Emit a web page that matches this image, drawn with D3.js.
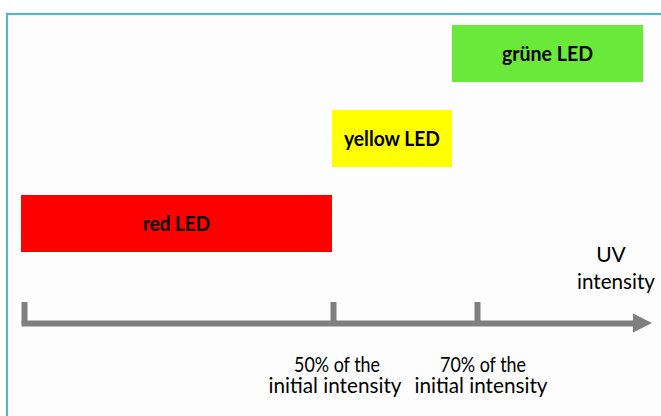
<!DOCTYPE html>
<html>
<head>
<meta charset="utf-8">
<script src="https://cdn.jsdelivr.net/npm/d3@7/dist/d3.min.js"></script>
<style>
  html, body { margin: 0; padding: 0; background: #ffffff; }
  svg { display: block; }
  text { font-family: Lato, "Open Sans", "Noto Sans", sans-serif; fill: #000; }
</style>
</head>
<body>
<svg id="chart" width="661" height="416"></svg>
<script>
// ---- data ----
const stages = ["red LED", "yellow LED", "grüne LED"];
const stageStart = [0, 50, 70];
const stageEnd = [50, 70, 100];
const stageColors = ["#ff0000", "#ffff00", "#6ae93a"];
const tickValues = [0, 50, 70];
const tickLines1 = ["", "50% of the", "70% of the"];
const tickLines2 = ["", "initial intensity", "initial intensity"];
const axisTitle = ["UV", "intensity"];

// ---- layout ----
const svg = d3.select("#chart");

// frame
svg.append("rect").attr("x", 7).attr("y", 14).attr("width", 720).attr("height", 500)
  .attr("fill", "#fdfdfd").attr("stroke", "#5ab3cb").attr("stroke-width", 2.2);

// scales
const xBox = d3.scaleLinear().domain([0, 50, 70, 100]).range([21, 332, 452, 643]);
const xAxis = d3.scaleLinear().domain([0, 50, 70, 100]).range([24, 333, 477, 633]);
const yRow = d3.scaleLinear().domain([0, 2]).range([195, 25]);
const boxH = 57;

// boxes
const rows = stages.map((s, i) => ({ name: s, start: stageStart[i], end: stageEnd[i], color: stageColors[i], i }));
const g = svg.append("g");
g.selectAll("rect.box").data(rows).join("rect")
  .attr("class", "box")
  .attr("x", d => xBox(d.start))
  .attr("y", d => yRow(d.i))
  .attr("width", d => xBox(d.end) - xBox(d.start))
  .attr("height", boxH)
  .attr("fill", d => d.color);

const labelWidths = { "red LED": 67, "yellow LED": 96, "grüne LED": 91 };
g.selectAll("text.box").data(rows).join("text")
  .attr("class", "box")
  .attr("x", d => (xBox(d.start) + xBox(d.end)) / 2)
  .attr("y", d => yRow(d.i) + boxH / 2 + 7.5)
  .attr("text-anchor", "middle")
  .attr("font-weight", "bold")
  .attr("font-size", 21)
  .attr("textLength", d => labelWidths[d.name])
  .attr("lengthAdjust", "spacingAndGlyphs")
  .text(d => d.name);

// axis
const axisY = 323;
const axisG = svg.append("g").attr("transform", `translate(0,${axisY})`)
  .call(d3.axisTop(xAxis).tickValues(tickValues).tickSizeInner(21).tickSizeOuter(0).tickFormat(""));
axisG.select(".domain").attr("stroke", "#7f7f7f").attr("stroke-width", 6).attr("stroke-linecap", "square");
axisG.selectAll(".tick line").attr("stroke", "#7f7f7f").attr("stroke-width", 6);

// arrow head
const xEnd = xAxis(100);
svg.append("path")
  .attr("d", `M${xEnd},${axisY - 9.5}L${xEnd + 19},${axisY}L${xEnd},${axisY + 9.5}Z`)
  .attr("fill", "#7f7f7f");

// tick labels
const tickShift = [0, 2, 4];
tickValues.forEach((v, i) => {
  if (!tickLines1[i]) return;
  const cx = xAxis(v) + tickShift[i];
  svg.append("text").attr("x", cx + 2).attr("y", 372).attr("text-anchor", "middle")
    .attr("font-size", 21).attr("textLength", 86).attr("lengthAdjust", "spacingAndGlyphs")
    .text(tickLines1[i]);
  svg.append("text").attr("x", cx).attr("y", 393).attr("text-anchor", "middle")
    .attr("font-size", 21).attr("textLength", 133).attr("lengthAdjust", "spacingAndGlyphs")
    .text(tickLines2[i]);
});

// axis title
svg.append("text").attr("x", 611).attr("y", 262).attr("text-anchor", "middle")
  .attr("font-size", 21).text(axisTitle[0]);
svg.append("text").attr("x", 616).attr("y", 289).attr("text-anchor", "middle")
  .attr("font-size", 21).attr("textLength", 78).attr("lengthAdjust", "spacingAndGlyphs")
  .text(axisTitle[1]);
</script>
</body>
</html>
